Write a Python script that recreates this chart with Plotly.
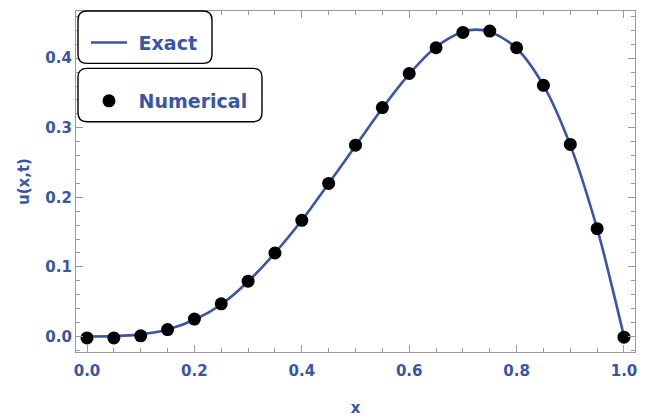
import plotly.graph_objects as go

# ---- data ----
x_exact = [0.0, 0.05, 0.1, 0.15, 0.2, 0.25, 0.3, 0.35, 0.4, 0.45, 0.5, 0.55, 0.6,
           0.65, 0.7, 0.725, 0.75, 0.8, 0.85, 0.9, 0.95, 0.975, 1.0]
u_exact = [0.0, 0.0005, 0.003, 0.010, 0.024, 0.046, 0.079, 0.120, 0.167, 0.220,
           0.274, 0.328, 0.377, 0.416, 0.438, 0.441, 0.438, 0.414, 0.361, 0.275,
           0.155, 0.080, 0.0]

x_num = [0.0, 0.05, 0.1, 0.15, 0.2, 0.25, 0.3, 0.35, 0.4, 0.45, 0.5, 0.55, 0.6,
         0.65, 0.7, 0.75, 0.8, 0.85, 0.9, 0.95, 1.0]
u_num = [-0.002, -0.002, 0.001, 0.010, 0.025, 0.047, 0.0795, 0.120, 0.167, 0.220,
         0.275, 0.329, 0.378, 0.415, 0.437, 0.439, 0.415, 0.361, 0.276, 0.155, -0.001]

x_ticks = [0.0, 0.2, 0.4, 0.6, 0.8, 1.0]
y_ticks = [0.0, 0.1, 0.2, 0.3, 0.4]

BLUE = "#3a55a6"
FONT = "DejaVu Sans"

OFF = 8  # browser body margin
W, H = 648 - OFF, 417 - OFF
ML, MR, MT, MB = 76 - OFF, 13, 10 - OFF, 62
PW, PH = W - ML - MR, H - MT - MB


def px(x):  # page pixel -> paper
    return (x - OFF - ML) / PW


def py(y):
    return (H - MB - (y - OFF)) / PH


def rounded_box(x0, y0, x1, y1, r=9):
    X0, X1 = px(x0), px(x1)
    Y0, Y1 = py(y0), py(y1)  # Y0 top, Y1 bottom
    rx, ry = r / PW, r / PH
    return (f"M{X0+rx},{Y0} L{X1-rx},{Y0} Q{X1},{Y0} {X1},{Y0-ry} "
            f"L{X1},{Y1+ry} Q{X1},{Y1} {X1-rx},{Y1} L{X0+rx},{Y1} "
            f"Q{X0},{Y1} {X0},{Y1+ry} L{X0},{Y0-ry} Q{X0},{Y0} {X0+rx},{Y0} Z")


fig = go.Figure()
fig.add_trace(go.Scatter(
    x=x_exact, y=u_exact, mode="lines", name="\u00a0Exact",
    line=dict(color=BLUE, width=2.6, shape="spline", smoothing=1.0),
    legend="legend",
))
fig.add_trace(go.Scatter(
    x=x_num, y=u_num, mode="markers", name="\u00a0Numerical",
    marker=dict(color="black", size=13),
    legend="legend2",
))

axis_common = dict(
    showline=True, linecolor="#9a9a9a", linewidth=1.3, mirror="allticks",
    ticks="inside", tickcolor="#9a9a9a", ticklen=7, tickwidth=1,
    showgrid=False, zeroline=False,
    tickfont=dict(family=FONT, size=15, color=BLUE, weight="bold"),
)

fig.update_xaxes(
    range=[-0.0205, 1.0205], tickvals=x_ticks, tickformat=".1f",
    minor=dict(dtick=0.05, tick0=0, ticks="inside", ticklen=4, tickcolor="#9a9a9a"),
    ticklabelstandoff=5,
    title=dict(text="x", font=dict(family=FONT, size=15, color=BLUE, weight="bold"),
               standoff=24),
    **axis_common,
)
fig.update_yaxes(
    range=[-0.0223, 0.4678], tickvals=y_ticks, tickformat=".1f",
    minor=dict(dtick=0.02, tick0=0, ticks="inside", ticklen=4, tickcolor="#9a9a9a"),
    title=dict(text="u(x,t)", font=dict(family=FONT, size=15, color=BLUE, weight="bold"),
               standoff=12),
    **axis_common,
)

legend_font = dict(family=FONT, size=19, color=BLUE, weight="bold")
fig.update_layout(
    width=W, height=H,
    margin=dict(l=ML, r=MR, t=MT, b=MB),
    paper_bgcolor="white", plot_bgcolor="white",
    showlegend=True,
    legend=dict(x=px(86), y=py(42), xanchor="left", yanchor="middle",
                bgcolor="rgba(0,0,0,0)", borderwidth=0, font=legend_font,
                itemwidth=36),
    legend2=dict(x=px(86), y=py(101), xanchor="left", yanchor="middle",
                 bgcolor="rgba(0,0,0,0)", borderwidth=0, font=legend_font,
                 itemwidth=36),
    shapes=[
        dict(type="path", xref="paper", yref="paper", path=rounded_box(78, 10, 212, 63),
             line=dict(color="black", width=1.4), fillcolor="white", layer="above"),
        dict(type="path", xref="paper", yref="paper", path=rounded_box(78, 68, 262, 122),
             line=dict(color="black", width=1.4), fillcolor="white", layer="above"),
    ],
)

fig.write_html("out.html")
